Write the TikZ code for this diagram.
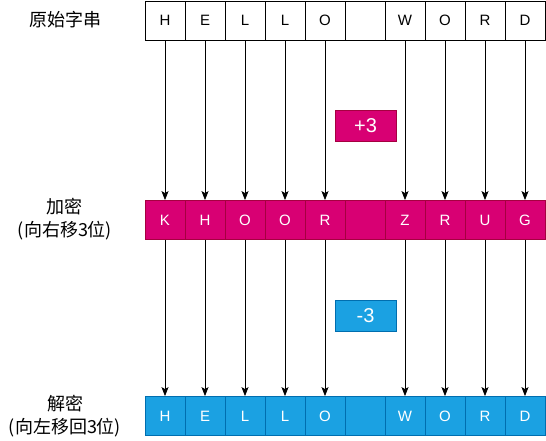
\documentclass[tikz,border=0pt]{standalone}
\usepackage{fontspec}
\setmainfont{Liberation Sans}
\newfontfamily\cjk{Noto Sans CJK SC}
\usetikzlibrary{arrows.meta}
\definecolor{encfill}{HTML}{D80073}
\definecolor{encline}{HTML}{A50040}
\definecolor{decfill}{HTML}{1BA1E2}
\definecolor{decline}{HTML}{006EAF}

\begin{document}
\begin{tikzpicture}[x=1pt, y=-1pt,
        cell/.style = {draw, line width=0.8pt, minimum width=40pt, minimum height=39pt, inner sep=0pt, font=\fontsize{15}{17}\selectfont},
        enccell/.style = {cell, fill=encfill, draw=encline, text=white},
        deccell/.style = {cell, fill=decfill, draw=decline, text=white},
        shiftbox/.style = {draw, line width=0.8pt, minimum width=61pt, minimum height=31pt, inner sep=0pt, text=white, font=\fontsize{20}{22}\selectfont},
        lbl/.style = {align=center, font=\cjk\fontsize{18}{23.5}\selectfont},
        conn/.style = {line width=0.8pt, -{Stealth[length=9pt, width=7pt, inset=2pt]}}]
        \useasboundingbox (0,0) rectangle (546,441);
        % rows of letters
        \foreach \i/\ch in {0/H,1/E,2/L,3/L,4/O,5/{},6/W,7/O,8/R,9/D}
            \node[cell] (o\i) at (165+40*\i, 20.5) {\ch};
        \foreach \i/\ch in {0/K,1/H,2/O,3/O,4/R,5/{},6/Z,7/R,8/U,9/G}
            \node[enccell] (e\i) at (165+40*\i, 220) {\ch};
        \foreach \i/\ch in {0/H,1/E,2/L,3/L,4/O,5/{},6/W,7/O,8/R,9/D}
            \node[deccell] (d\i) at (165+40*\i, 416) {\ch};
        % labels on the left
        \node[lbl] (orig) at (65,20) {原始字串};
        \node[lbl] (enc) at (65,219) {加密\\(向右移3位)};
        \node[lbl] (dec) at (65,416) {解密\\(向左移回3位)};
        % shift amounts
        \node[shiftbox, fill=encfill, draw=encline] (plus) at (365.5,125.5) {+3};
        \node[shiftbox, fill=decfill, draw=decline] (minus) at (365.5,315.5) {-3};
        % arrows
        \foreach \i in {0,1,2,3,4,6,7,8,9} {
            \draw[conn] (o\i) -- (e\i);
            \draw[conn] (e\i) -- (d\i);
        }
    \end{tikzpicture}
\end{document}
